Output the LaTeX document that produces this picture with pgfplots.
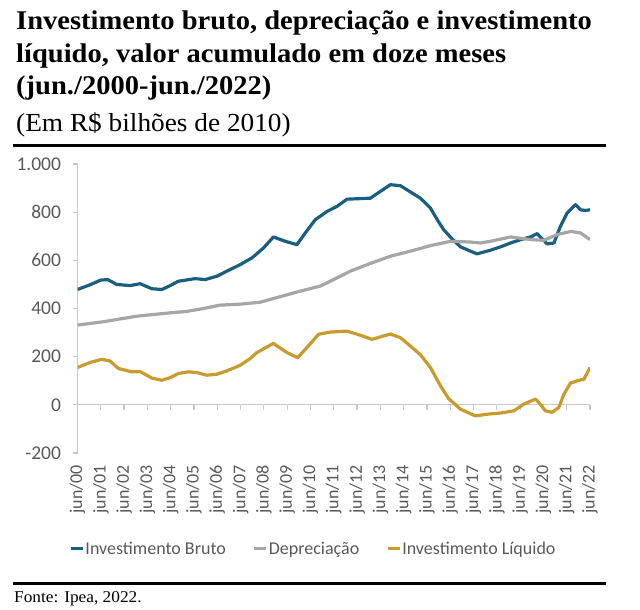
\documentclass[border=0pt]{standalone}
\usepackage{fontspec}
\setmainfont{Liberation Serif}
\newfontfamily\carlito{Carlito}
\usepackage{pgfplots}
\pgfplotsset{compat=1.18}
\definecolor{cblue}{HTML}{1B5F80}
\definecolor{cgray}{HTML}{A6A6A6}
\definecolor{cgold}{HTML}{C89B2C}
\definecolor{ctext}{HTML}{595959}
\definecolor{caxis}{HTML}{C8C8C8}

\pgfplotstableread{
t v
0 479
0.5 497
1.0 518
1.3 520
1.68 500
2.26 495
2.69 503
3.19 482
3.62 479
3.98 495
4.32 513
5.05 524
5.48 520
5.98 534
6.41 555
6.98 582
7.49 610
7.98 651
8.41 697
8.92 679
9.42 665
9.78 714
10.21 769
10.71 803
11.14 824
11.57 854
12.57 858
13.0 886
13.43 914
13.86 910
14.29 884
14.72 858
15.15 817
15.44 769
15.72 727
16.08 689
16.44 656
16.87 638
17.15 627
17.73 642
18.16 656
18.59 672
19.02 686
19.45 697
19.73 711
19.95 689
20.16 668
20.45 672
20.73 741
21.02 797
21.38 831
21.59 810
21.81 807
22.0 810
}\bruto

\pgfplotstableread{
t v
0 331
1.11 345
2.54 368
3.98 382
4.69 388
5.41 400
6.12 414
6.98 418
7.84 426
8.7 449
9.56 472
10.42 493
10.85 513
11.71 555
12.57 587
13.43 617
14.29 638
15.15 661
16.01 679
16.87 676
17.3 672
17.73 679
18.59 697
19.45 686
20.02 683
20.6 707
21.17 720
21.59 714
22.0 686
}\depre

\pgfplotstableread{
t v
0 155
0.54 176
1.04 189
1.40 182
1.75 151
2.33 137
2.69 138
3.19 111
3.62 102
3.98 113
4.33 130
4.76 137
5.12 134
5.55 123
5.98 127
6.41 141
6.98 164
7.41 192
7.70 217
8.41 255
8.99 217
9.45 196
9.85 238
10.35 293
10.85 302
11.57 306
12.14 289
12.64 272
13.43 294
13.86 279
14.29 244
14.72 208
15.15 155
15.58 79
15.93 26
16.44 -18
17.08 -46
17.58 -39
18.16 -34
18.73 -25
19.16 3
19.66 24
19.80 10
20.09 -25
20.38 -31
20.66 -11
20.88 44
21.16 90
21.52 102
21.74 106
22.0 155
}\liquido

\begin{document}
\begin{tikzpicture}
\useasboundingbox (0pt,0pt) rectangle (640pt,610pt);
\node[anchor=base west, inner sep=0pt, font=\fontsize{27}{27}\selectfont\bfseries] at (16pt,580.7pt) {\scalebox{1.057}[1]{Investimento bruto, depreciação e investimento}};
\node[anchor=base west, inner sep=0pt, font=\fontsize{27}{27}\selectfont\bfseries] at (16pt,547.3pt) {\scalebox{1.057}[1]{líquido, valor acumulado em doze meses}};
\node[anchor=base west, inner sep=0pt, font=\fontsize{27}{27}\selectfont\bfseries] at (16pt,515pt) {\scalebox{1.057}[1]{(jun./2000-jun./2022)}};
\node[anchor=base west, inner sep=0pt, font=\fontsize{26}{26}\selectfont] at (16pt,478.3pt) {\scalebox{1.05}[1]{(Em R\$ bilhões de 2010)}};
\draw[line width=3pt] (12.7pt,464pt) -- (605.7pt,464pt);
\draw[line width=3pt] (12.7pt,26pt) -- (605.7pt,26pt);
\node[anchor=base west, inner sep=0pt, font=\fontsize{16.5}{16.5}\selectfont] at (14pt,7pt) {\scalebox{1.05}[1]{Fonte: Ipea, 2022.}};

\begin{axis}[at={(77.5pt,157pt)}, anchor=south west, scale only axis,
  width=512.5pt, height=289pt,
  xmin=0, xmax=22, ymin=-200, ymax=1000,
  axis x line=middle, axis y line=none,
  axis line style={-, draw=caxis, line width=1.2pt},
  xtick={0,...,22}, xticklabels={}, ytick=\empty,
  tick align=outside, major tick length=5pt,
  major x tick style={draw=caxis, line width=1.2pt}]
\end{axis}

\begin{axis}[at={(77.5pt,157pt)}, anchor=south west, scale only axis,
  width=512.5pt, height=289pt,
  xmin=0, xmax=22, ymin=-200, ymax=1000,
  axis y line=left, axis x line=bottom,
  axis line style={-},
  x axis line style={draw=none},
  y axis line style={draw=caxis, line width=1.2pt},
  xtick={0,...,22},
  xticklabels={jun/00,jun/01,jun/02,jun/03,jun/04,jun/05,jun/06,jun/07,jun/08,jun/09,jun/10,jun/11,jun/12,jun/13,jun/14,jun/15,jun/16,jun/17,jun/18,jun/19,jun/20,jun/21,jun/22},
  ytick={-200,0,200,400,600,800,1000},
  major x tick style={draw=none},
  major y tick style={draw=caxis, line width=1.2pt},
  tick align=outside, major tick length=5pt,
  /pgf/number format/assume math mode=true,
  /pgf/number format/1000 sep={.},
  yticklabel style={font=\carlito\fontsize{19.5}{19.5}\selectfont, text=ctext},
  xticklabel style={font=\carlito\fontsize{18}{18}\selectfont, text=ctext, rotate=90, anchor=east, xshift=2.5pt},
  xticklabel shift=6pt,
  yticklabel shift=8pt,
  legend style={at={(0.4595,-0.332)}, anchor=center, draw=none, fill=none,
    font=\carlito\fontsize{18}{18}\selectfont, text=ctext,
    nodes={inner xsep=1pt},
    /tikz/every even column/.append style={column sep=26pt}},
  legend columns=-1,
  legend image code/.code={\draw[#1, line width=3pt] (0pt,0pt) -- (12pt,0pt);}]
\addplot[cblue, line width=3.2pt, line join=round] table[x=t, y=v] {\bruto};
\addlegendentry{Investimento Bruto}
\addplot[cgray, line width=3.2pt, line join=round] table[x=t, y=v] {\depre};
\addlegendentry{Depreciação}
\addplot[cgold, line width=3.2pt, line join=round] table[x=t, y=v] {\liquido};
\addlegendentry{Investimento Líquido}
\end{axis}
\end{tikzpicture}
\end{document}
